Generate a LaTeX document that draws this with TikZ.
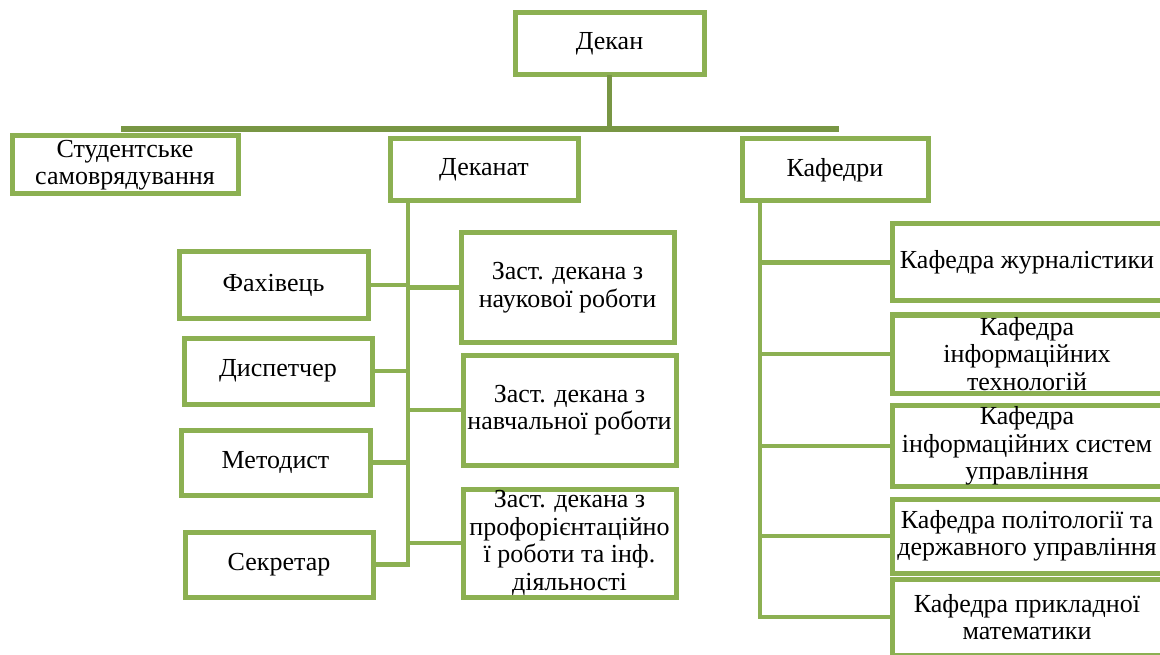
\documentclass[tikz,border=0pt]{standalone}
\usepackage{fontspec}
\setmainfont{Liberation Serif}
\usepackage{xcolor}
\usepackage{tikz}

\definecolor{boxgreen}{RGB}{140,176,82}
\definecolor{busgreen}{RGB}{120,150,68}

\begin{document}
\begin{tikzpicture}[x=1pt, y=-1pt]
        \clip (0,0) rectangle (1160,655);
        \fill[white] (0,0) rectangle (1160,655);
        \tikzstyle{Unit} = [draw = boxgreen, line width = 5pt, fill = white, align = center,
                            inner sep = 1pt, font = \fontsize{26}{27.5}\selectfont]
        \tikzstyle{Link} = [draw = boxgreen, line width = 4.5pt, line cap = rect]
        \tikzstyle{Bus} = [draw = busgreen, line width = 5.5pt, line cap = rect]
        % top level
        \node[Unit, minimum width = 189, minimum height = 62] (dekan) at (609.5,44) {Декан};
        \node[Unit, minimum width = 226, minimum height = 58] (stud) at (125,165) {Студентське\\самоврядування};
        \node[Unit, minimum width = 188, minimum height = 62] (dekanat) at (484,170) {Деканат};
        \node[Unit, minimum width = 186, minimum height = 62] (kafedry) at (835,170) {Кафедри};
        % dean's office staff
        \node[Unit, minimum width = 189, minimum height = 66] (fakh) at (273.5,285) {Фахівець};
        \node[Unit, minimum width = 188, minimum height = 66] (disp) at (278,371) {Диспетчер};
        \node[Unit, minimum width = 189, minimum height = 65] (metod) at (275.5,462.5) {Методист};
        \node[Unit, minimum width = 188, minimum height = 65] (sekr) at (279,564.5) {Секретар};
        \node[Unit, minimum width = 213, minimum height = 109] (zast1) at (567.5,287.5) {Заст. декана з\\наукової роботи};
        \node[Unit, minimum width = 213, minimum height = 110] (zast2) at (569.5,410) {Заст. декана з\\навчальної роботи};
        \node[Unit, minimum width = 213, minimum height = 108] (zast3) at (569.5,543) {Заст. декана з\\профорієнтаційно\\ї роботи та інф.\\діяльності};
        % departments
        \node[Unit, minimum width = 270, minimum height = 77] (kaf1) at (1027,262.5) {Кафедра журналістики};
        \node[Unit, minimum width = 270, minimum height = 78] (kaf2) at (1027,354) {Кафедра\\інформаційних\\технологій};
        \node[Unit, minimum width = 270, minimum height = 78] (kaf3) at (1027,446) {Кафедра\\інформаційних систем\\управління};
        \node[Unit, minimum width = 270, minimum height = 74] (kaf4) at (1027,536) {Кафедра політології та\\державного управління};
        \node[Unit, minimum width = 270, minimum height = 76] (kaf5) at (1027,617) {Кафедра прикладної\\математики};
        % lines
        \coordinate (busL) at (124,129);
        \coordinate (busR) at (836,129);
        \coordinate (dtr) at (408,0);
        \coordinate (ktr) at (760,0);
        \draw[Bus] (dekan.south) -- (dekan.south |- busL);
        \draw[Bus] (busL) -- (busR);
        \draw[Link] (dtr |- dekanat.south) -- (dtr |- sekr.east);
        \draw[Link] (fakh.east) -- (fakh.east -| dtr);
        \draw[Link] (disp.east) -- (disp.east -| dtr);
        \draw[Link] (metod.east) -- (metod.east -| dtr);
        \draw[Link] (sekr.east) -- (sekr.east -| dtr);
        \draw[Link] (zast1.west) -- (zast1.west -| dtr);
        \draw[Link] (zast2.west) -- (zast2.west -| dtr);
        \draw[Link] (zast3.west) -- (zast3.west -| dtr);
        \draw[Link] (ktr |- kafedry.south) -- (ktr |- kaf5.west);
        \draw[Link] (kaf1.west) -- (kaf1.west -| ktr);
        \draw[Link] (kaf2.west) -- (kaf2.west -| ktr);
        \draw[Link] (kaf3.west) -- (kaf3.west -| ktr);
        \draw[Link] (kaf4.west) -- (kaf4.west -| ktr);
        \draw[Link] (kaf5.west) -- (kaf5.west -| ktr);
    \end{tikzpicture}
\end{document}
